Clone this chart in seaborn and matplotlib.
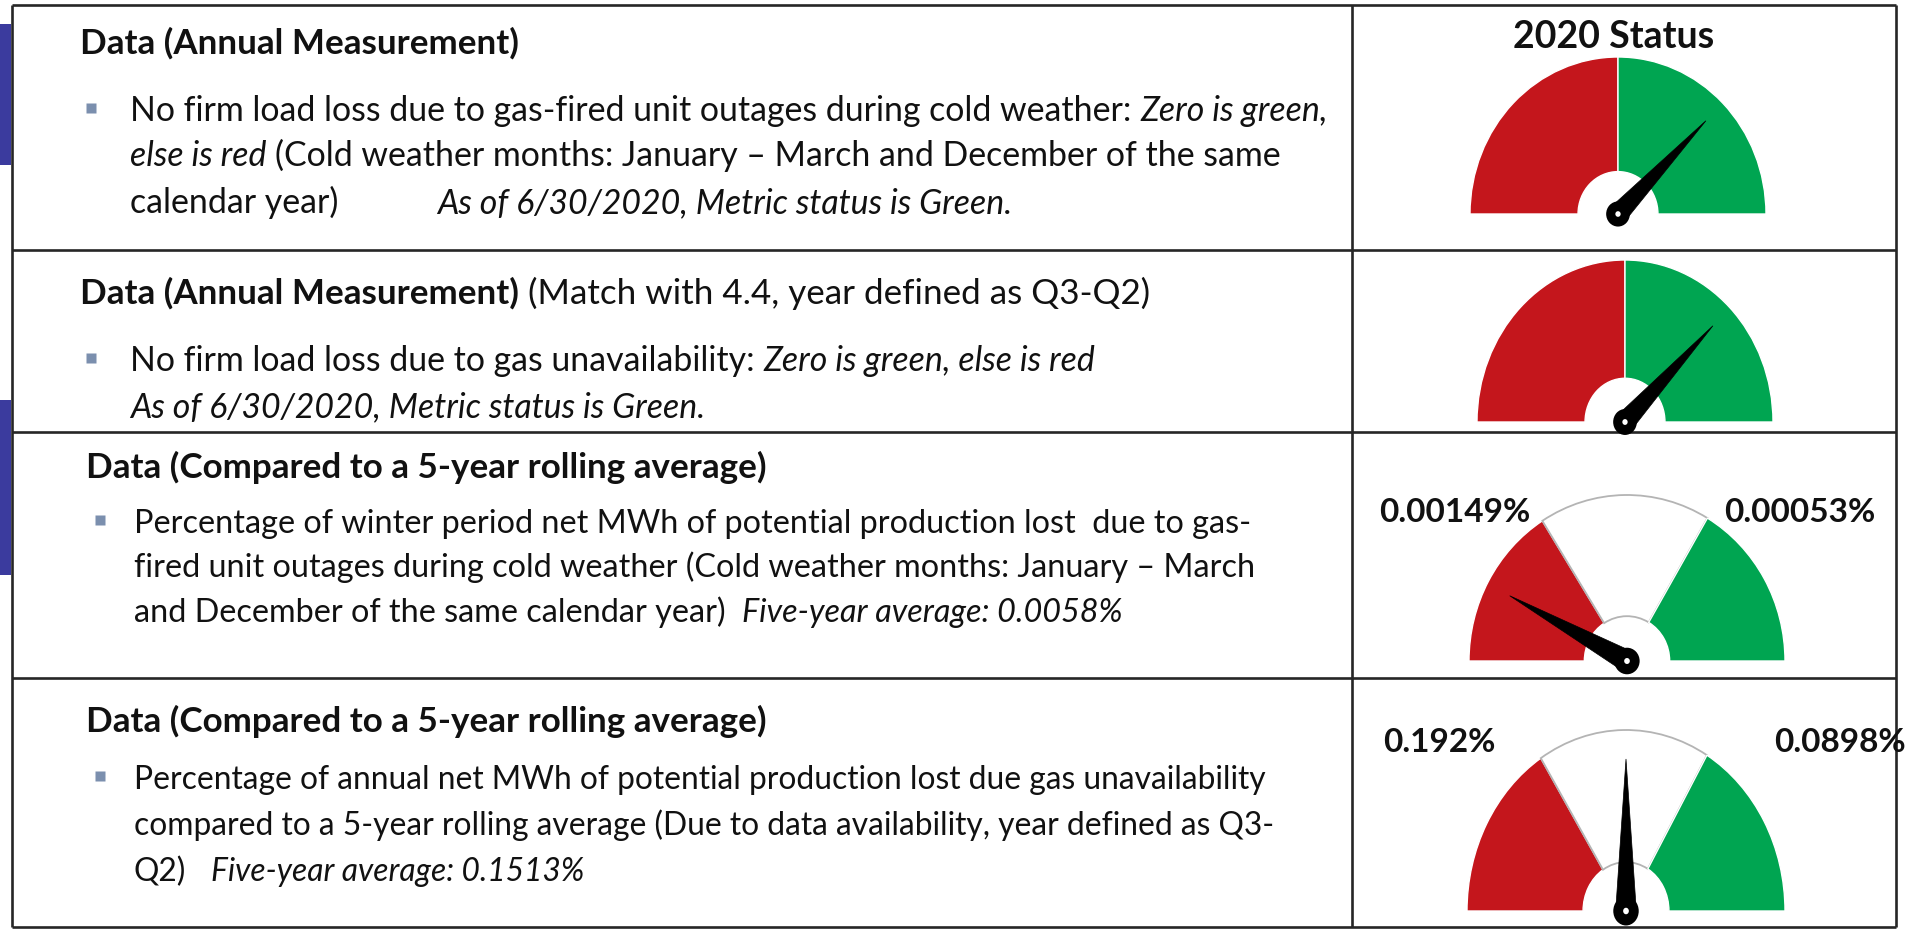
import matplotlib
matplotlib.use("Agg")
import matplotlib.pyplot as plt
import seaborn as sns
import numpy as np
from matplotlib.patches import Polygon, Circle, Rectangle

sns.set_theme(style="white")
plt.rcParams["font.family"] = ["Lato", "DejaVu Sans"]

# ---- data ----
status_title = "2020 Status"
gauge_segments = [[0.5, 0.5], [0.5, 0.5], [0.32, 0.35, 0.33], [0.32, 0.35, 0.33]]
gauge_colors = [["#C4161C", "#00A551"], ["#C4161C", "#00A551"],
                ["#C4161C", "#FFFFFF", "#00A551"], ["#C4161C", "#FFFFFF", "#00A551"]]
needle_pos = [0.75, 0.75, 0.155, 0.5]          # 0 = left end, 1 = right end
red_labels = ["", "", "0.00149%", "0.192%"]
green_labels = ["", "", "0.00053%", "0.0898%"]

rows = [
    {"head": [("Data (Annual Measurement)", "bold")],
     "lines": [[("No firm load loss due to gas-fired unit outages during cold weather:", "normal"),
                (" Zero is green,", "italic")],
               [("else is red", "italic"),
                (" (Cold weather months: January \u2013 March and December of the same", "normal")],
               [("calendar year)", "normal")]],
     "extra": ("As of 6/30/2020, Metric status is Green.", "italic")},
    {"head": [("Data (Annual Measurement)", "bold"), (" (Match with 4.4, year defined as Q3-Q2)", "normal")],
     "lines": [[("No firm load loss due to gas unavailability:", "normal"),
                (" Zero is green, else is red", "italic")],
               [("As of 6/30/2020, Metric status is Green.", "italic")]]},
    {"head": [("Data (Compared to a 5-year rolling average)", "bold")],
     "lines": [[("Percentage of winter period net MWh of potential production lost  due to gas-", "normal")],
               [("fired unit outages during cold weather (Cold weather months: January \u2013 March", "normal")],
               [("and December of the same calendar year)", "normal"),
                ("  Five-year average: 0.0058%", "italic")]]},
    {"head": [("Data (Compared to a 5-year rolling average)", "bold")],
     "lines": [[("Percentage of annual net MWh of potential production lost due gas unavailability", "normal")],
               [("compared to a 5-year rolling average (Due to data availability, year defined as Q3-", "normal")],
               [("Q2)", "normal"), ("   Five-year average: 0.1513%", "italic")]]},
]

# ---- layout (figure pixels, y down) ----
W, H = 1916, 930
head_y = [54, 304, 478, 732]
line_y = [[121, 166, 213], [371, 417], [533, 577, 622], [789, 835, 881]]
head_x = [80, 80, 86, 86]
text_x = [130, 130, 134, 134]
bullet_x = [91, 91, 100, 100]
body_size = [24.4, 24.4, 23.3, 22.9]
head_size = 25.2
gauge_box = [(1618, 214, 148, 157), (1625, 422, 148, 162),
             (1627, 661, 158, 166), (1626, 911, 159, 181)]
label_y = [0, 0, 522, 752]
label_gap = [0, 0, 97, 130]

fig = plt.figure(figsize=(W / 100, H / 100), dpi=100)
bg = fig.add_axes([0, 0, 1, 1])
bg.set_xlim(0, W)
bg.set_ylim(H, 0)
bg.axis("off")
rend = fig.canvas.get_renderer()


def width(txt, size):
    t = bg.text(0, 0, txt, fontsize=size)
    w = t.get_window_extent(rend).width
    t.remove()
    return w


def draw_runs(x, y, runs, size):
    sp = width("a a", size) - width("aa", size)
    for txt, sty in runs:
        n = len(txt) - len(txt.lstrip(" "))
        x += n * sp
        kw = {"fontweight": "bold"} if sty == "bold" else {"fontstyle": sty}
        fs = head_size if sty == "bold" else size
        t = bg.text(x, y, txt.strip(), fontsize=fs, va="baseline", ha="left",
                    color="#111111", **kw)
        x += t.get_window_extent(rend).width
    return x


# side strips
for y0, h in [(24, 141), (400, 175)]:
    bg.add_patch(Rectangle((0, y0), 11, h, color="#3b3b9e", lw=0))

# table grid
lc, lw = "#262626", 1.9
for y in [5, 250, 432, 678, 927]:
    bg.plot([12, 1896], [y, y], color=lc, lw=lw, solid_capstyle="butt")
for x in [12, 1352, 1896]:
    bg.plot([x, x], [5, 927], color=lc, lw=lw, solid_capstyle="butt")

# text column
for i, row in enumerate(rows):
    draw_runs(head_x[i], head_y[i], row["head"], head_size)
    for j, runs in enumerate(row["lines"]):
        if j == 0:
            bg.plot(bullet_x[i], line_y[i][j] - 13, marker="s", ms=7,
                    color="#7b8fae", mec="none")
        draw_runs(text_x[i], line_y[i][j], runs, body_size[i])
    if "extra" in row:
        draw_runs(437, line_y[i][-1], [row["extra"]], body_size[i])

bg.text(1614, 37, status_title, fontsize=27, fontweight="bold",
        ha="center", va="center", color="#111111")

# gauges
for k, (cx, base, rx, ry) in enumerate(gauge_box):
    x0, x1, y0, y1 = -1.05, 1.05, -0.12, 1.03
    ax = fig.add_axes([(cx + x0 * rx) / W, 1 - (base - y0 * ry) / H,
                       (x1 - x0) * rx / W, (y1 - y0) * ry / H])
    segs = gauge_segments[k]
    wedges, _ = ax.pie(segs + [sum(segs)], colors=gauge_colors[k] + ["none"],
                       startangle=180, counterclock=False, radius=1,
                       wedgeprops=dict(width=0.73, linewidth=0))
    wedges[-1].set_visible(False)
    for wdg, col in zip(wedges[:-1], gauge_colors[k]):
        if col == "#FFFFFF":
            wdg.set_edgecolor("#b4b4b4")
            wdg.set_linewidth(1.3)
        else:
            wdg.set_edgecolor("white")
            wdg.set_linewidth(1.0)
    ax.set_aspect("auto")
    ax.set_xlim(x0, x1)
    ax.set_ylim(y0, y1)
    ax.axis("off")

    th = np.pi * (1 - needle_pos[k])
    L, hw = 0.84, 0.065
    tip = (L * np.cos(th), L * np.sin(th))
    p1 = (-hw * np.sin(th), hw * np.cos(th))
    p2 = (hw * np.sin(th), -hw * np.cos(th))
    ax.add_patch(Polygon([tip, p1, p2], closed=True, fc="black", ec="black", lw=0.5))
    ax.add_patch(Circle((0, 0), 0.08, fc="black", ec="none"))
    ax.add_patch(Circle((0, 0), 0.018, fc="white", ec="none"))

    if red_labels[k]:
        bg.text(cx - label_gap[k], label_y[k], red_labels[k], fontsize=24, fontweight="bold",
                ha="right", va="baseline", color="#111111")
        bg.text(cx + label_gap[k] + (0 if k == 2 else 18), label_y[k], green_labels[k],
                fontsize=24, fontweight="bold", ha="left", va="baseline", color="#111111")

fig.savefig("out.png", dpi=100)
